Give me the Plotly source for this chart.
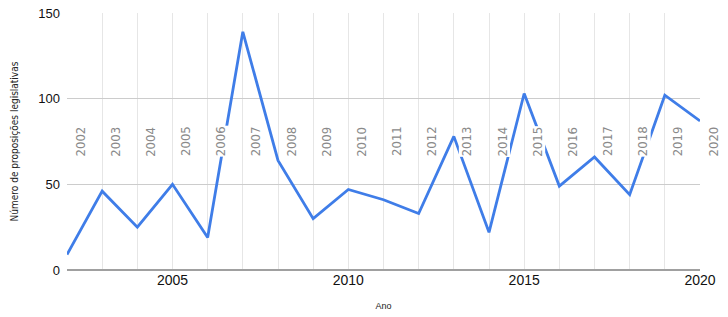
import plotly.graph_objects as go

years = list(range(2002, 2021))
values = [9, 46, 25, 50, 19, 139, 64, 30, 47, 41, 33, 78, 22, 103, 49, 66, 44, 102, 87]
year_labels = [str(y) for y in years]
x_ticks = [2005, 2010, 2015, 2020]
y_ticks = [0, 50, 100, 150]

fig = go.Figure()
fig.add_trace(go.Scatter(
    x=years, y=values, mode="lines",
    line=dict(color="#3f7de8", width=2.8),
    hoverinfo="skip", showlegend=False,
))

for yr, lab in zip(years, year_labels):
    fig.add_annotation(
        x=yr, y=75, text=lab, showarrow=False, textangle=-90,
        xshift=13, font=dict(family="Liberation Sans Narrow, DejaVu Sans Condensed, Arial", size=13, color="#8a8a8a"),
        bgcolor="white", borderpad=0,
    )

fig.update_layout(
    width=728, height=317,
    margin=dict(l=67, r=28, t=13, b=47, autoexpand=False),
    paper_bgcolor="white", plot_bgcolor="white",
    font=dict(family="Liberation Sans, Arial", color="#222"),
    hovermode=False,
    xaxis=dict(
        range=[2002, 2020], tickvals=x_ticks, ticktext=[str(t) for t in x_ticks],
        showgrid=True, gridcolor="#e6e6e6", gridwidth=1,
        minor=dict(dtick=1, tick0=2002, showgrid=True, gridcolor="#e6e6e6", gridwidth=1),
        zeroline=False, showline=False, ticks="", automargin=False,
        tickfont=dict(size=14, color="#111"),
        title=dict(text="Ano", font=dict(size=9, color="#222"), standoff=15),
    ),
    yaxis=dict(
        range=[0, 150], tickvals=y_ticks,
        showgrid=True, gridcolor="#cccccc", gridwidth=1.5,
        zeroline=True, zerolinecolor="#a0a0a0", zerolinewidth=2,
        showline=False, ticks="", ticklabelstandoff=6, automargin=False,
        tickfont=dict(size=13, color="#111"),
        title=dict(text="Número de proposições legislativas",
                   font=dict(family="Liberation Sans Narrow, DejaVu Sans Condensed, Arial", size=10, color="#222"),
                   standoff=17),
    ),
)

fig.write_html("out.html", config={"displayModeBar": False, "staticPlot": True})

with open("out.html", "r", encoding="utf-8") as f:
    html = f.read()
html = html.replace("<head>", "<head><style>html,body{margin:0;padding:0;overflow:hidden;}</style>", 1)
with open("out.html", "w", encoding="utf-8") as f:
    f.write(html)
